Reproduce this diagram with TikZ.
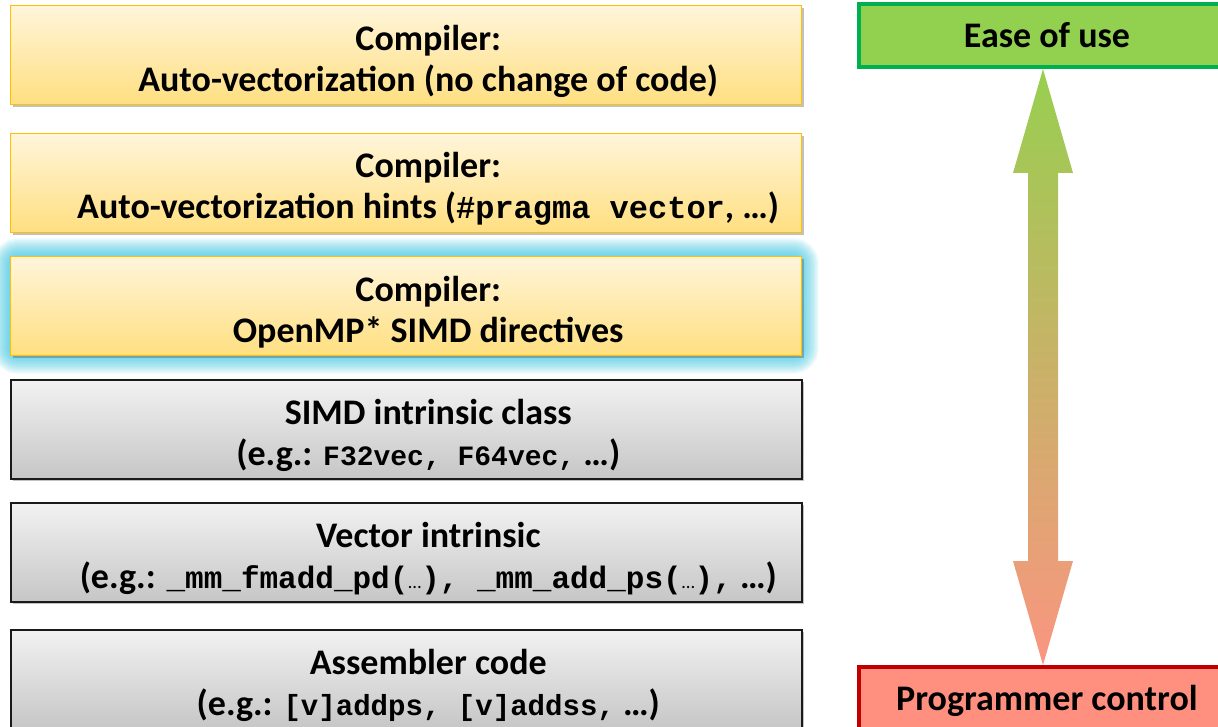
\documentclass[tikz,border=0pt]{standalone}
\usepackage{fontspec}
\setmainfont{Carlito}
\newfontfamily\cmono{Liberation Mono}
\usetikzlibrary{shadows,calc}
\definecolor{ybord}{HTML}{FFC000}
\definecolor{ytop}{HTML}{FFF5DA}
\definecolor{ybot}{HTML}{FFDF80}
\definecolor{gtop}{HTML}{F2F2F2}
\definecolor{gbot}{HTML}{C6C6C6}
\definecolor{gbord}{HTML}{1A1A1A}
\definecolor{glowc}{HTML}{30C0DC}
\definecolor{easefill}{HTML}{92D050}
\definecolor{easebord}{HTML}{00B050}
\definecolor{progfill}{HTML}{FF9080}
\definecolor{progbord}{HTML}{C00000}
\definecolor{arrtop}{HTML}{98CF50}
\definecolor{arrbot}{HTML}{FA9580}
\newcommand\codetxt[2][22]{{\cmono\bfseries\fontsize{#1}{30.75}\selectfont #2}}
\newcommand\sdots{{\mdseries\fontsize{14}{30.75}\selectfont …}}
\tikzset{
  levelbox/.style={rectangle, anchor=north west, inner sep=0pt,
    minimum width=593.25pt, minimum height=74.25pt,
    drop shadow={shadow xshift=1.5pt, shadow yshift=-1.5pt, opacity=0.35, fill=black!70}},
  yellowbox/.style={levelbox, draw=ybord, line width=1.1pt, top color=ytop, bottom color=ybot},
  greybox/.style={levelbox, draw=gbord, line width=1.2pt, top color=gtop, bottom color=gbot},
  boxtext/.style={font=\bfseries\fontsize{27}{30.75}\selectfont, align=center, inner sep=0pt,
    xshift=16.5pt, yshift=-4.5pt},
  endbox/.style={rectangle, inner sep=0pt, minimum width=282pt, line width=3pt,
    font=\bfseries\fontsize{27}{30.75}\selectfont},
}
\begin{document}
\begin{tikzpicture}[x=0.75pt, y=-0.75pt]
\useasboundingbox (0,0) rectangle (1218,727);
\clip (0,0) rectangle (1218,727);
% level boxes
\node[yellowbox] (b1) at (10,5) {};
\node[yellowbox] (b2) at (10,133) {};
\foreach \w in {1,...,11}
  \draw[glowc, opacity=0.09, line width=\w*2.4pt, rounded corners=6pt] (10,256) rectangle (801,356);
\node[yellowbox] (b3) at (10,256) {};
\node[greybox] (b4) at (10,379) {};
\node[greybox] (b5) at (10,502) {};
\node[greybox] (b6) at (10,629) {};
\node[boxtext] (t1) at (b1.center) {Compiler:\\Auto-vectorization (no change of code)};
\node[boxtext] (t2) at (b2.center) {Compiler:\\Auto-vectorization hints (\codetxt[24]{\#pragma vector}, …)};
\node[boxtext] (t3) at (b3.center) {Compiler:\\OpenMP* SIMD directives};
\node[boxtext] (t4) at (b4.center) {SIMD intrinsic class\\(e.g.: \codetxt[21]{F32vec, F64vec,} …)};
\node[boxtext] (t5) at (b5.center) {Vector intrinsic\\(e.g.: \codetxt[23.25]{\_mm\_fmadd\_pd(}\sdots\codetxt[23.25]{), \_mm\_add\_ps(}\sdots\codetxt[23.25]{),} …)};
\node[boxtext] (t6) at (b6.center) {Assembler code\\(e.g.: \codetxt[21.8]{[v]addps, [v]addss,} …)};
% right side
\node[endbox, draw=easebord, fill=easefill, minimum height=47.25pt] (ease) at (1047,35.5) {Ease of use};
\node[endbox, draw=progbord, fill=progfill, minimum height=51pt] (prog) at (1047,701) {Programmer control};
\coordinate (at) at ($(ease.south)+(-4,0)$);
\coordinate (ab) at ($(prog.north)+(-4,0)$);
\shade[top color=arrtop, bottom color=arrbot]
  (at) -- ($(at)+(30,104)$) -- ($(at)+(15,104)$) -- ($(ab)+(15,-104)$) -- ($(ab)+(30,-104)$)
  -- (ab) -- ($(ab)+(-30,-104)$) -- ($(ab)+(-15,-104)$) -- ($(at)+(-15,104)$) -- ($(at)+(-30,104)$) -- cycle;
\end{tikzpicture}
\end{document}
